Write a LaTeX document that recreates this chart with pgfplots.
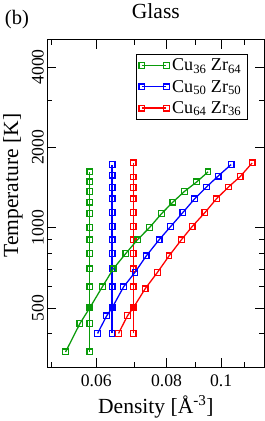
\documentclass[border=0pt]{standalone}
\usepackage{fontspec}
\setmainfont{Liberation Serif}
\usepackage{pgfplots}
\pgfplotsset{compat=1.18}
\definecolor{ggreen}{RGB}{10,155,10}
\definecolor{bblue}{RGB}{0,0,255}
\definecolor{rred}{RGB}{255,0,0}
\begin{document}
\begin{tikzpicture}
\begin{axis}[
  scale only axis,
  clip mode=individual,
  width=221pt, height=334pt,
  xmode=log, ymode=log,
  xmin=0.04914, xmax=0.1193,
  ymin=300.2, ymax=5060,
  xtick={0.06,0.08,0.1},
  xticklabels={0.06,0.08,0.1},
  minor xtick={0.05,0.07,0.09,0.11},
  ytick={500,1000,2000,4000},
  yticklabels={500,1000,2000,4000},
  minor ytick={400,600,700,800,900,3000},
  major tick length=9pt, minor tick length=5pt,
  tick style={black, line width=0.8pt},
  axis line style={line width=0.9pt},
  xticklabel style={font=\fontsize{18}{20}\selectfont, anchor=base},
  xticklabel shift=20pt,
  yticklabel style={font=\fontsize{18}{20}\selectfont, rotate=90, anchor=base},
  yticklabel shift=4pt,
  xlabel={Density [Å\textsuperscript{-3}]},
  xlabel style={font=\fontsize{22}{24}\selectfont, at={(rel axis cs:0.5,0)}, anchor=base, yshift=-47pt},
  ylabel={Temperature [K]},
  ylabel style={font=\fontsize{22}{24}\selectfont, at={(rel axis cs:-0.1357,0.554)}, anchor=base},
  title={Glass},
  title style={font=\fontsize{22}{24}\selectfont, at={(rel axis cs:0.5,1)}, anchor=base, yshift=16pt},
  legend style={at={(rel axis cs:0.923,0.958)}, anchor=north east, draw=black, line width=0.6pt, fill=white,
    font=\fontsize{18.5}{20}\selectfont, inner xsep=3pt, inner ysep=5pt, row sep=8pt, nodes={inner xsep=3pt, inner ysep=0pt}},
  legend cell align=left,
  legend image code/.code={\draw[mark repeat=2, mark phase=1, #1] plot coordinates {(0pt,0pt) (12.5pt,0pt) (25pt,0pt)};},
  every axis plot/.append style={line width=1.3pt, mark=square, mark size=2.9pt, mark options={solid, line width=1.3pt}},
]
% green vertical
\addplot[ggreen, forget plot] coordinates {
(0.0584,342) (0.0584,437) (0.0584,500) (0.0584,600) (0.0584,700) (0.0584,800) (0.0584,900)
(0.0584,1000) (0.0584,1129) (0.0584,1246) (0.0584,1367) (0.0584,1483) (0.0584,1618)};
% blue vertical
\addplot[bblue, forget plot] coordinates {
(0.0640,401) (0.0640,500) (0.0640,600) (0.0640,700) (0.0640,800) (0.0640,900) (0.0640,1008)
(0.0640,1138) (0.0640,1281) (0.0640,1414) (0.0640,1574) (0.0640,1723)};
% red vertical
\addplot[rred, forget plot] coordinates {
(0.0698,401) (0.0698,500) (0.0698,600) (0.0698,700) (0.0698,800) (0.0698,900) (0.0698,1008)
(0.0698,1138) (0.0698,1281) (0.0698,1414) (0.0698,1548) (0.0698,1747)};
% green diagonal
\addplot[ggreen] coordinates {
(0.0529,342) (0.0561,437) (0.0584,500) (0.0615,600) (0.0643,700) (0.0677,800) (0.0710,900)
(0.0746,1000) (0.0784,1129) (0.0821,1246) (0.0861,1367) (0.0905,1483) (0.0948,1618)};
\addlegendentry{Cu\textsubscript{36} Zr\textsubscript{64}}
% blue diagonal
\addplot[bblue] coordinates {
(0.0603,401) (0.0626,467) (0.0640,500) (0.0671,600) (0.0703,680) (0.0736,783) (0.0776,900)
(0.0813,1008) (0.0855,1138) (0.0897,1281) (0.0942,1420) (0.0988,1560) (0.1042,1723)};
\addlegendentry{Cu\textsubscript{50} Zr\textsubscript{50}}
% red diagonal
\addplot[rred] coordinates {
(0.0657,401) (0.0682,468) (0.0698,500) (0.0733,590) (0.0771,680) (0.0808,783) (0.0850,900)
(0.0888,1008) (0.0936,1138) (0.0981,1281) (0.1031,1420) (0.1081,1552) (0.1136,1747)};
\addlegendentry{Cu\textsubscript{64} Zr\textsubscript{36}}
% filled squares at 500 K
\addplot[ggreen, only marks, forget plot, mark=square*, mark options={fill=ggreen}] coordinates {(0.0584,500)};
\addplot[bblue, only marks, forget plot, mark=square*, mark options={fill=bblue}] coordinates {(0.0640,500)};
\addplot[rred, only marks, forget plot, mark=square*, mark options={fill=rred}] coordinates {(0.0698,500)};
\node[anchor=base west, font=\fontsize{21}{23}\selectfont] at (rel axis cs:-0.2127,1.048) {(b)};
\end{axis}
\end{tikzpicture}
\end{document}
